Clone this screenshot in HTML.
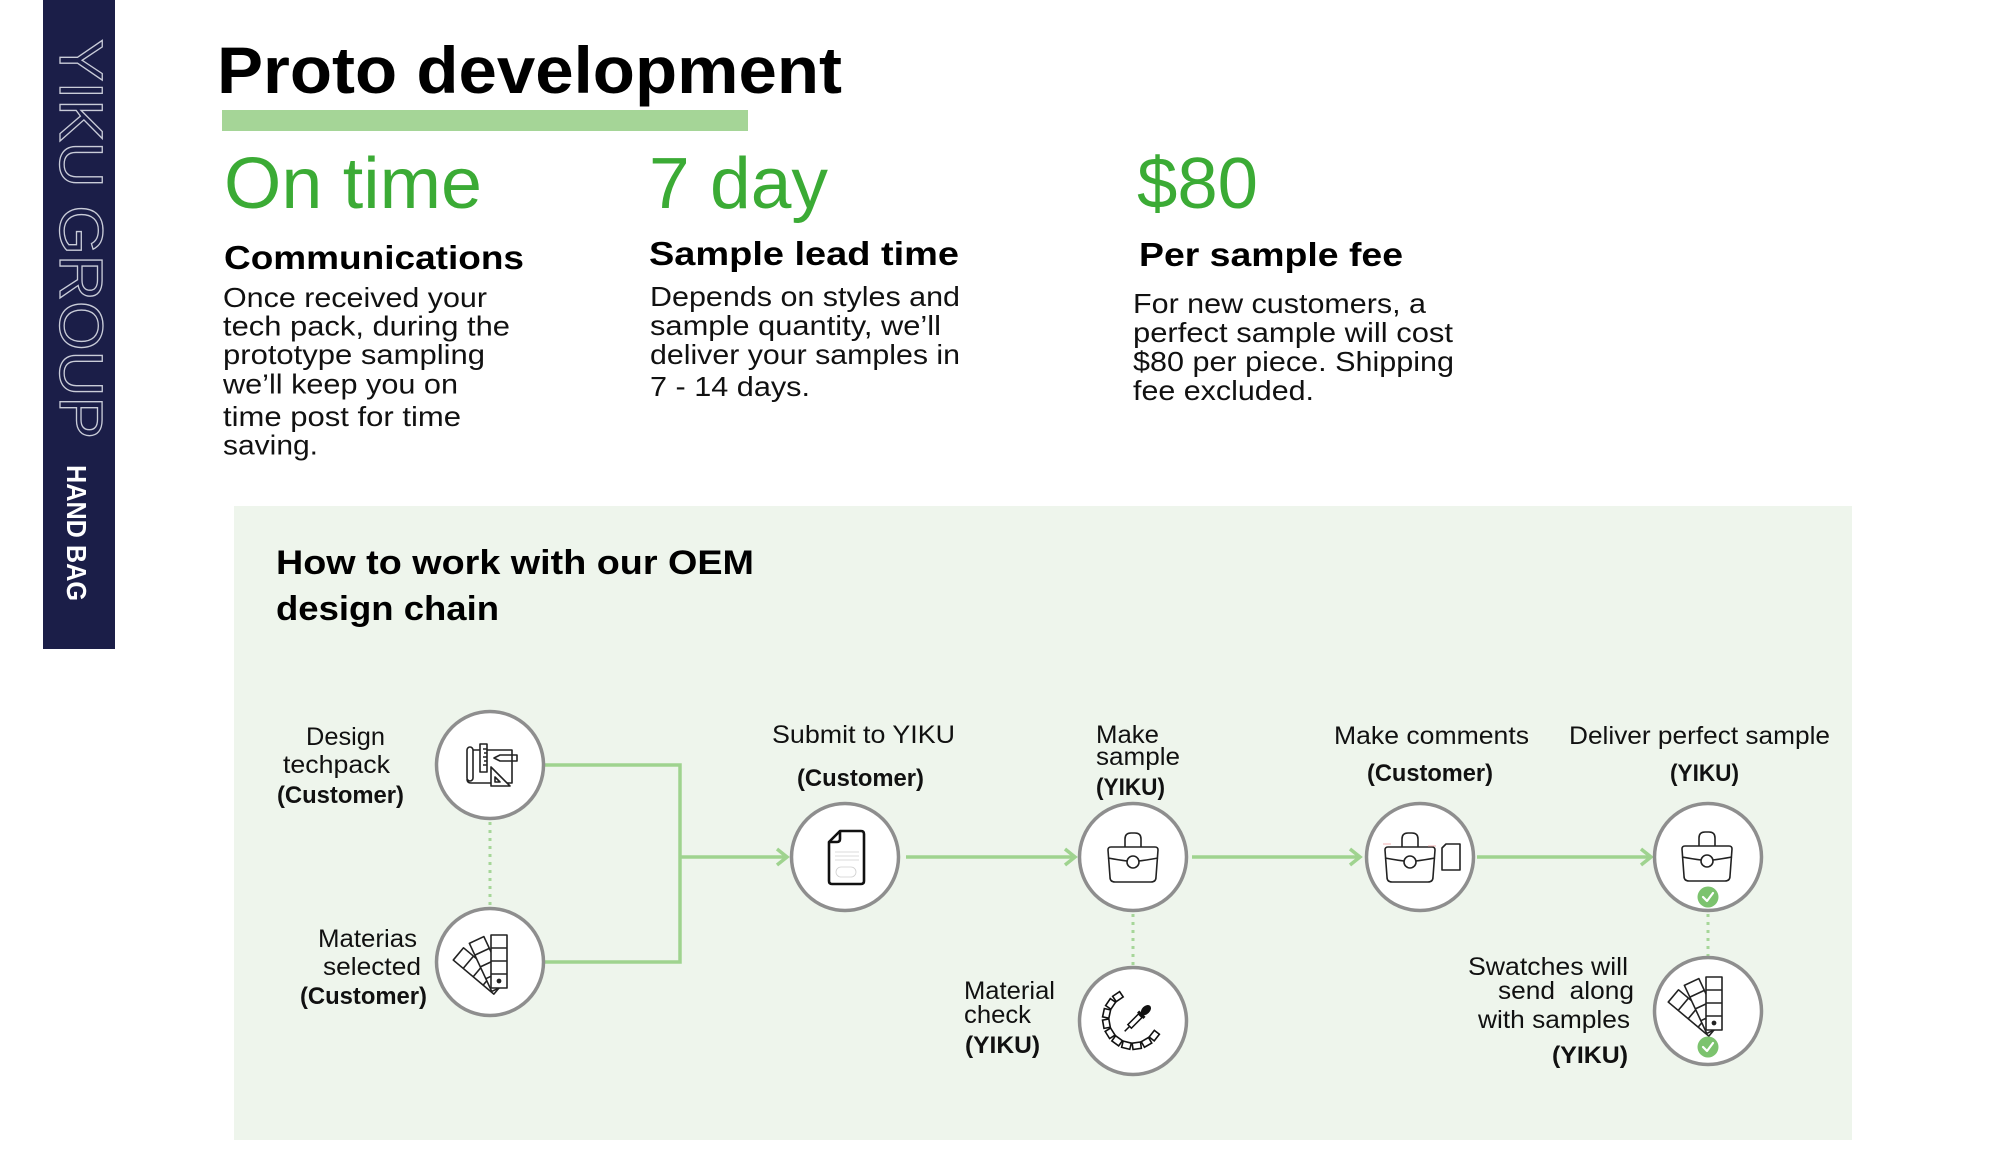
<!DOCTYPE html>
<html><head><meta charset="utf-8"><style>
html,body{margin:0;padding:0;background:#fff;width:2000px;height:1165px;overflow:hidden}
svg{display:block}
text{font-family:"Liberation Sans",Arial,sans-serif}
</style></head><body>
<svg width="2000" height="1165" viewBox="0 0 2000 1165" xmlns="http://www.w3.org/2000/svg">
<rect width="2000" height="1165" fill="#ffffff"/>
<!-- sidebar -->
<rect x="43" y="0" width="72" height="649" fill="#1b1e48"/>
<text transform="translate(60,39) rotate(90)" font-size="61" textLength="400" lengthAdjust="spacingAndGlyphs" fill="none" stroke="#c9ccd8" stroke-width="1.3">YIKU GROUP</text>
<text transform="translate(67,465) rotate(90)" font-size="28" font-weight="bold" textLength="136" lengthAdjust="spacingAndGlyphs" fill="#ffffff">HAND BAG</text>

<!-- title -->
<text x="217" y="93" font-size="66" font-weight="bold" fill="#000" textLength="625" lengthAdjust="spacingAndGlyphs">Proto development</text>
<rect x="222" y="110" width="526" height="21" fill="#a5d597"/>

<!-- big green -->
<g fill="#3bab35" font-size="72">
<text x="224" y="208" textLength="258" lengthAdjust="spacingAndGlyphs">On time</text>
<text x="649" y="208" textLength="179" lengthAdjust="spacingAndGlyphs">7 day</text>
<text x="1137" y="208" textLength="121" lengthAdjust="spacingAndGlyphs">$80</text>
</g>
<g fill="#000" font-size="33" font-weight="bold">
<text x="224" y="269" textLength="300" lengthAdjust="spacingAndGlyphs">Communications</text>
<text x="649" y="265" textLength="310" lengthAdjust="spacingAndGlyphs">Sample lead time</text>
<text x="1139" y="266" textLength="264" lengthAdjust="spacingAndGlyphs">Per sample fee</text>
</g>
<g fill="#111" font-size="28">
<text x="223" y="307" textLength="264" lengthAdjust="spacingAndGlyphs">Once received your</text>
<text x="223" y="335.5" textLength="287" lengthAdjust="spacingAndGlyphs">tech pack, during the</text>
<text x="223" y="364" textLength="262" lengthAdjust="spacingAndGlyphs">prototype sampling</text>
<text x="223" y="393.5" textLength="235" lengthAdjust="spacingAndGlyphs">we’ll keep you on</text>
<text x="223" y="426" textLength="238" lengthAdjust="spacingAndGlyphs">time post for time</text>
<text x="223" y="454.5" textLength="95" lengthAdjust="spacingAndGlyphs">saving.</text>

<text x="650" y="306" textLength="310" lengthAdjust="spacingAndGlyphs">Depends on styles and</text>
<text x="650" y="335" textLength="291" lengthAdjust="spacingAndGlyphs">sample quantity, we’ll</text>
<text x="650" y="364" textLength="310" lengthAdjust="spacingAndGlyphs">deliver your samples in</text>
<text x="650" y="396" textLength="160" lengthAdjust="spacingAndGlyphs">7 - 14 days.</text>

<text x="1133" y="313" textLength="293" lengthAdjust="spacingAndGlyphs">For new customers, a</text>
<text x="1133" y="342" textLength="320" lengthAdjust="spacingAndGlyphs">perfect sample will cost</text>
<text x="1133" y="371" textLength="321" lengthAdjust="spacingAndGlyphs">$80 per piece. Shipping</text>
<text x="1133" y="400" textLength="181" lengthAdjust="spacingAndGlyphs">fee excluded.</text>
</g>

<!-- panel -->
<rect x="234" y="506" width="1618" height="634" fill="#eef5ec"/>
<g fill="#000" font-size="34" font-weight="bold">
<text x="276" y="574" textLength="478" lengthAdjust="spacingAndGlyphs">How to work with our OEM</text>
<text x="276" y="620" textLength="223" lengthAdjust="spacingAndGlyphs">design chain</text>
</g>

<!-- connectors -->
<g fill="none" stroke="#9fd38f" stroke-width="3.5">
<polyline points="545,765 680,765 680,962 545,962"/>
<line x1="680" y1="857" x2="786" y2="857"/>
<polyline points="777,849 787,857 777,865"/>
<line x1="906" y1="857" x2="1074" y2="857"/>
<polyline points="1065,849 1075,857 1065,865"/>
<line x1="1192" y1="857" x2="1359" y2="857"/>
<polyline points="1350,849 1360,857 1350,865"/>
<line x1="1477" y1="857" x2="1650" y2="857"/>
<polyline points="1641,849 1651,857 1641,865"/>
</g>
<g stroke="#a6d699" stroke-width="3" stroke-dasharray="3,5">
<line x1="490" y1="822" x2="490" y2="906"/>
<line x1="1133" y1="914" x2="1133" y2="966"/>
<line x1="1708" y1="914" x2="1708" y2="956"/>
</g>

<!-- circles -->
<g fill="#ffffff" stroke="#8e8e8e" stroke-width="3.5">
<circle cx="490" cy="765" r="53.5"/>
<circle cx="490" cy="962" r="53.5"/>
<circle cx="845" cy="857" r="53.5"/>
<circle cx="1133" cy="857" r="53.5"/>
<circle cx="1133" cy="1021" r="53.5"/>
<circle cx="1420" cy="857" r="53.5"/>
<circle cx="1708" cy="857" r="53.5"/>
<circle cx="1708" cy="1011" r="53.5"/>
</g>

<!-- icon: design techpack -->
<g fill="none" stroke="#222" stroke-width="1.6" stroke-linejoin="round">
<path d="M473,750 L512,750 L512,783 L471,783 Q467,783 467,779"/>
<rect x="467" y="747" width="6" height="34" rx="3" fill="#fff"/>
<rect x="480" y="744" width="7" height="28" fill="#fff"/>
<path d="M483,749 h4 M484,753 h3 M483,757 h4 M484,761 h3 M483,765 h4"/>
<path d="M500,755 L517,755 L517,761 L500,761 L494,758 Z" fill="#fff"/>
<line x1="512" y1="755" x2="512" y2="761"/>
<path d="M491,767 L491,786 L510,786 Z" fill="#fff"/>
<path d="M495,777 L495,782 L500,782 Z"/>
</g>

<!-- icon: swatches (materias) -->
<g transform="translate(499,988)" fill="#fff" stroke="#222" stroke-width="1.6" stroke-linejoin="round">
<g transform="rotate(-50)"><rect x="-8" y="-53" width="16" height="53"/><path d="M-8,-40 h16 M-8,-27 h16 M-8,-14 h16"/></g>
<g transform="rotate(-25)"><rect x="-8" y="-53" width="16" height="53"/><path d="M-8,-40 h16 M-8,-27 h16 M-8,-14 h16"/></g>
<g><rect x="-8" y="-53" width="16" height="53"/><path d="M-8,-40 h16 M-8,-27 h16 M-8,-14 h16"/><circle cx="0" cy="-7" r="1.6" fill="#222"/></g>
</g>

<!-- icon: document -->
<g fill="none" stroke="#111" stroke-width="2.6" stroke-linejoin="round">
<path d="M829,842 L840,831 L861,831 Q864,831 864,834 L864,881 Q864,884 861,884 L832,884 Q829,884 829,881 Z"/>
<path d="M829,842 L837,842 Q840,842 840,839 L840,831"/>
</g>
<g fill="none" stroke="#cfcfcf" stroke-width="0.8">
<path d="M835,852 h24 M835,856 h24 M835,860 h24"/>
<rect x="836" y="867" width="20" height="10" rx="5"/>
</g>

<!-- icon: bags -->
<g fill="none" stroke="#222" stroke-width="1.6" stroke-linejoin="round">
<g transform="translate(1133,858)">
<path d="M-8,-11 L-8,-19 Q-8,-25 -2,-25 L2,-25 Q8,-25 8,-19 L8,-11"/>
<path d="M-25,-8 Q-25,-11 -22,-11 L22,-11 Q25,-11 25,-8 L23,19 Q23,24 18,24 L-18,24 Q-23,24 -23,19 Z"/>
<path d="M-25,0 Q-14,2 -6,3 M25,0 Q14,2 6,3"/>
<circle cx="0" cy="4" r="6"/>
</g>
<g transform="translate(1410,858)">
<path d="M-8,-11 L-8,-19 Q-8,-25 -2,-25 L2,-25 Q8,-25 8,-19 L8,-11"/>
<path d="M-25,-8 Q-25,-11 -22,-11 L22,-11 Q25,-11 25,-8 L23,19 Q23,24 18,24 L-18,24 Q-23,24 -23,19 Z"/>
<path d="M-25,0 Q-14,2 -6,3 M25,0 Q14,2 6,3"/>
<circle cx="0" cy="4" r="6"/>
</g>
<path d="M1446,844 L1460,844 L1460,870 L1442,870 L1442,848 Z"/>
<g transform="translate(1707,857)">
<path d="M-8,-11 L-8,-19 Q-8,-25 -2,-25 L2,-25 Q8,-25 8,-19 L8,-11"/>
<path d="M-25,-8 Q-25,-11 -22,-11 L22,-11 Q25,-11 25,-8 L23,19 Q23,24 18,24 L-18,24 Q-23,24 -23,19 Z"/>
<path d="M-25,0 Q-14,2 -6,3 M25,0 Q14,2 6,3"/>
<circle cx="0" cy="4" r="6"/>
</g>
</g>
<path d="M1383,844 h8 M1428,846 h8" stroke="#f0b0b0" stroke-width="1"/>

<!-- icon: material check -->
<g transform="translate(1133,1019)" fill="#fff" stroke="#111" stroke-width="1.6">
<g transform="rotate(38) translate(27,0) rotate(90)"><rect x="-4.2" y="-3.2" width="8.4" height="6.4"/></g>
<g transform="rotate(60) translate(27,0) rotate(90)"><rect x="-4.2" y="-3.2" width="8.4" height="6.4"/></g>
<g transform="rotate(82) translate(27,0) rotate(90)"><rect x="-4.2" y="-3.2" width="8.4" height="6.4"/></g>
<g transform="rotate(104) translate(27,0) rotate(90)"><rect x="-4.2" y="-3.2" width="8.4" height="6.4"/></g>
<g transform="rotate(126) translate(27,0) rotate(90)"><rect x="-4.2" y="-3.2" width="8.4" height="6.4"/></g>
<g transform="rotate(148) translate(27,0) rotate(90)"><rect x="-4.2" y="-3.2" width="8.4" height="6.4"/></g>
<g transform="rotate(170) translate(27,0) rotate(90)"><rect x="-4.2" y="-3.2" width="8.4" height="6.4"/></g>
<g transform="rotate(192) translate(27,0) rotate(90)"><rect x="-4.2" y="-3.2" width="8.4" height="6.4"/></g>
<g transform="rotate(214) translate(27,0) rotate(90)"><rect x="-4.2" y="-3.2" width="8.4" height="6.4"/></g>
<g transform="rotate(236) translate(27,0) rotate(90)"><rect x="-4.2" y="-3.2" width="8.4" height="6.4"/></g>
</g>
<g transform="translate(1136,1020) rotate(45)">
<rect x="-2.5" y="-6" width="5" height="15" fill="#fff" stroke="#111" stroke-width="1.5"/>
<line x1="0" y1="9" x2="0" y2="16" stroke="#111" stroke-width="1.5"/>
<rect x="-4.5" y="-9" width="9" height="3" fill="#111"/>
<ellipse cx="0" cy="-14" rx="4" ry="6" fill="#111"/>
</g>

<!-- icon: swatches (yiku) -->
<g transform="translate(1714,1030)" fill="#fff" stroke="#222" stroke-width="1.6" stroke-linejoin="round">
<g transform="rotate(-50)"><rect x="-8" y="-53" width="16" height="53"/><path d="M-8,-40 h16 M-8,-27 h16 M-8,-14 h16"/></g>
<g transform="rotate(-25)"><rect x="-8" y="-53" width="16" height="53"/><path d="M-8,-40 h16 M-8,-27 h16 M-8,-14 h16"/></g>
<g><rect x="-8" y="-53" width="16" height="53"/><path d="M-8,-40 h16 M-8,-27 h16 M-8,-14 h16"/><circle cx="0" cy="-7" r="1.6" fill="#222"/></g>
</g>

<!-- badges -->
<g>
<circle cx="1708" cy="897" r="10.5" fill="#7cc36e"/>
<path d="M1703,897 L1707,901 L1713,893" fill="none" stroke="#fff" stroke-width="2.2" stroke-linecap="round" stroke-linejoin="round"/>
<circle cx="1708" cy="1047" r="10.5" fill="#7cc36e"/>
<path d="M1703,1047 L1707,1051 L1713,1043" fill="none" stroke="#fff" stroke-width="2.2" stroke-linecap="round" stroke-linejoin="round"/>
</g>

<!-- labels -->
<g fill="#111" font-size="25">
<text x="306" y="745" textLength="79" lengthAdjust="spacingAndGlyphs">Design</text>
<text x="283" y="773" textLength="107" lengthAdjust="spacingAndGlyphs">techpack</text>
<text x="318" y="947" textLength="99" lengthAdjust="spacingAndGlyphs">Materias</text>
<text x="323" y="975" textLength="98" lengthAdjust="spacingAndGlyphs">selected</text>
<text x="772" y="743" textLength="183" lengthAdjust="spacingAndGlyphs">Submit to YIKU</text>
<text x="1096" y="743" textLength="63" lengthAdjust="spacingAndGlyphs">Make</text>
<text x="1096" y="765" textLength="84" lengthAdjust="spacingAndGlyphs">sample</text>
<text x="964" y="999" textLength="91" lengthAdjust="spacingAndGlyphs">Material</text>
<text x="964" y="1023" textLength="67" lengthAdjust="spacingAndGlyphs">check</text>
<text x="1334" y="744" textLength="195" lengthAdjust="spacingAndGlyphs">Make comments</text>
<text x="1569" y="744" textLength="261" lengthAdjust="spacingAndGlyphs">Deliver perfect sample</text>
<text x="1468" y="975" textLength="160" lengthAdjust="spacingAndGlyphs">Swatches will</text>
<text x="1498" y="999" textLength="136" lengthAdjust="spacingAndGlyphs" xml:space="preserve">send  along</text>
<text x="1478" y="1028" textLength="152" lengthAdjust="spacingAndGlyphs">with samples</text>
</g>
<g fill="#111" font-size="24" font-weight="bold">
<text x="277" y="803" textLength="127" lengthAdjust="spacingAndGlyphs">(Customer)</text>
<text x="300" y="1004" textLength="127" lengthAdjust="spacingAndGlyphs">(Customer)</text>
<text x="797" y="786" textLength="127" lengthAdjust="spacingAndGlyphs">(Customer)</text>
<text x="1096" y="795" textLength="69" lengthAdjust="spacingAndGlyphs">(YIKU)</text>
<text x="965" y="1053" textLength="75" lengthAdjust="spacingAndGlyphs">(YIKU)</text>
<text x="1367" y="781" textLength="126" lengthAdjust="spacingAndGlyphs">(Customer)</text>
<text x="1670" y="781" textLength="69" lengthAdjust="spacingAndGlyphs">(YIKU)</text>
<text x="1552" y="1063" textLength="76" lengthAdjust="spacingAndGlyphs">(YIKU)</text>
</g>
</svg>
</body></html>
